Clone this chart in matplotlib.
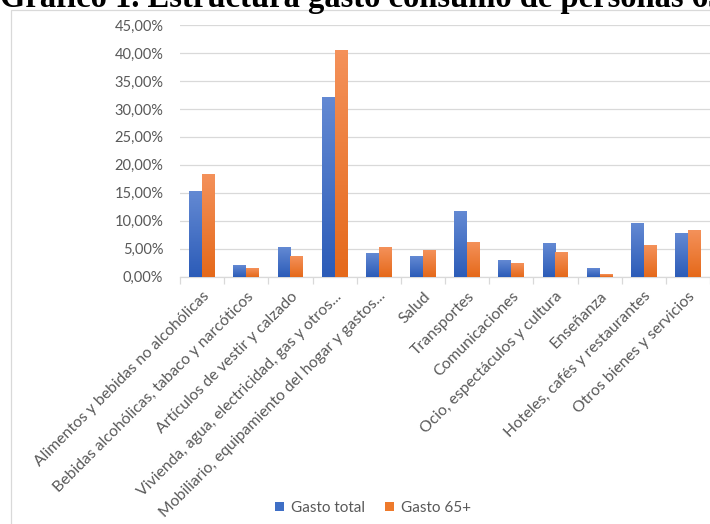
import numpy as np
import matplotlib.pyplot as plt
from matplotlib.patches import Rectangle
from matplotlib.colors import LinearSegmentedColormap

categorias = [
    "Alimentos y bebidas no alcohólicas",
    "Bebidas alcohólicas, tabaco y narcóticos",
    "Artículos de vestir y calzado",
    "Vivienda, agua, electricidad, gas y otros...",
    "Mobiliario, equipamiento del hogar y gastos...",
    "Salud",
    "Transportes",
    "Comunicaciones",
    "Ocio, espectáculos y cultura",
    "Enseñanza",
    "Hoteles, cafés y restaurantes",
    "Otros bienes y servicios",
]
gasto_total = [15.3, 2.1, 5.3, 32.1, 4.2, 3.7, 11.75, 3.0, 6.0, 1.55, 9.6, 7.8]
gasto_65 = [18.4, 1.55, 3.7, 40.5, 5.3, 4.8, 6.2, 2.45, 4.4, 0.5, 5.7, 8.35]
series = ["Gasto total", "Gasto 65+"]
y_ticks = np.arange(0, 46, 5)

W, H = 710, 524
fig = plt.figure(figsize=(W / 100, H / 100), dpi=100)
plt.rcParams["font.family"] = ["Lato", "DejaVu Sans"]
txt = "#595959"

ax = fig.add_axes([180 / W, 1 - 276.7 / H, 530 / W, (276.7 - 25) / H])

x = np.arange(len(categorias))
bw = 0.29
azul = LinearSegmentedColormap.from_list("az", ["#2c5cb8", "#6389d3"])
naranja = LinearSegmentedColormap.from_list("na", ["#e5691a", "#f4915a"])
grad = np.linspace(0, 1, 64).reshape(-1, 1)

b1 = ax.bar(x - bw / 2, gasto_total, bw, color="#4472C4", label=series[0], zorder=2)
b2 = ax.bar(x + bw / 2, gasto_65, bw, color="#ED7D31", label=series[1], zorder=2)
for bars, cmap in ((b1, azul), (b2, naranja)):
    for p in bars:
        x0, y0 = p.get_x(), p.get_y()
        im = ax.imshow(grad, cmap=cmap, origin="lower", aspect="auto",
                       extent=(x0, x0 + p.get_width(), y0, y0 + p.get_height()),
                       zorder=3)
        im.set_clip_path(p)

ax.set_xlim(-0.5, len(categorias) - 0.5)
ax.set_ylim(0, 45)
ax.set_yticks(y_ticks)
ax.set_yticklabels([f"{v:.2f}%".replace(".", ",") for v in y_ticks])
ax.yaxis.grid(True, color="#D9D9D9", lw=0.9, zorder=0)
ax.set_axisbelow(True)

ax.set_xticks(x)
ax.set_xticklabels(categorias, rotation=45, ha="right", va="top",
                   rotation_mode="anchor")
ax.set_xticks(np.arange(-0.5, len(categorias), 1), minor=True)
ax.tick_params(axis="x", which="major", length=0, pad=9, labelsize=11.3, labelcolor=txt)
ax.tick_params(axis="x", which="minor", length=5, color="#D9D9D9", width=0.9)
ax.tick_params(axis="y", length=0, pad=12, labelsize=10.5, labelcolor=txt)

for s in ("top", "right", "left"):
    ax.spines[s].set_visible(False)
ax.spines["bottom"].set_color("#D9D9D9")
ax.spines["bottom"].set_linewidth(0.9)

h1 = Rectangle((0, 0), 1, 1, facecolor="#3f6fc6")
h2 = Rectangle((0, 0), 1, 1, facecolor="#ee7a2c")
fig.legend([h1, h2], series, loc="center", bbox_to_anchor=(373 / W, 1 - 508 / H),
           ncol=2, frameon=False, fontsize=11, labelcolor=txt,
           handlelength=0.6, handleheight=0.6, handletextpad=0.45,
           columnspacing=1.3)

# chart border
fig.add_artist(Rectangle((11 / W, -0.1), 1.2, 1 - 10 / H + 0.1, transform=fig.transFigure,
                         fill=False, edgecolor="#D9D9D9", lw=0.9))

fig.text(0, 1 - 7 / H, "Gráfico 1. Estructura gasto consumo de personas 65 y más",
         fontfamily="Liberation Serif", fontweight="bold", fontsize=23.5,
         va="baseline", ha="left", color="black")

fig.savefig("out.png", dpi=100)
